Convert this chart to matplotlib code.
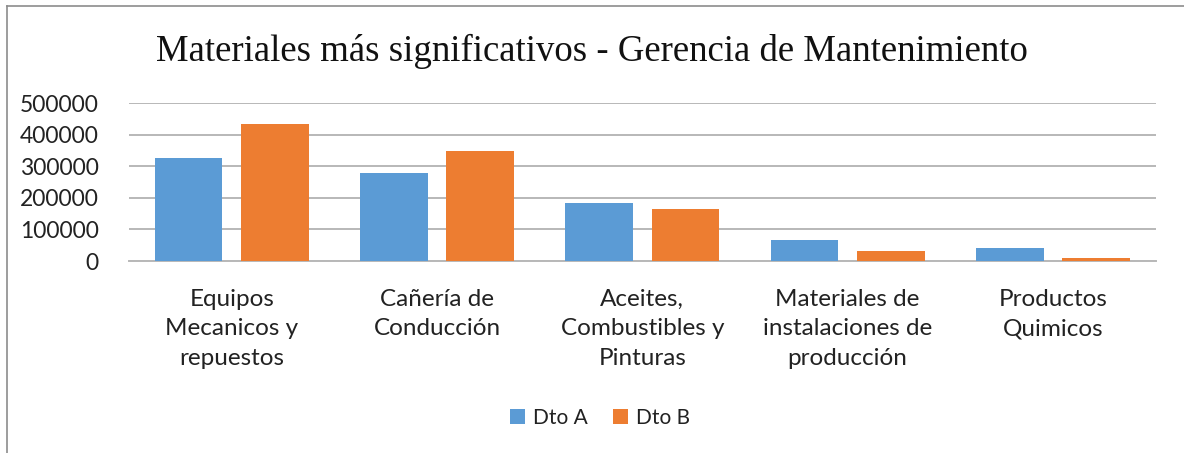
import numpy as np
import matplotlib.pyplot as plt
from matplotlib.lines import Line2D

# data
categorias = ["Equipos\nMecanicos y\nrepuestos", "Cañería de\nConducción",
              "Aceites,\nCombustibles y\nPinturas", "Materiales de\ninstalaciones de\nproducción",
              "Productos\nQuimicos"]
dto_a = [326000, 278000, 183000, 66000, 41000]
dto_b = [433000, 348000, 165000, 33000, 10000]
yticks = [0, 100000, 200000, 300000, 400000, 500000]

azul = "#5B9BD5"
naranja = "#ED7D31"
sans = ["Lato", "DejaVu Sans"]

fig = plt.figure(figsize=(11.84, 4.53), dpi=100)
ax = fig.add_axes([0.109, 0.4238, 0.867, 0.3488])

x = np.arange(len(categorias))
w = 0.33
ax.bar(x - 0.21, dto_a, w, color=azul, label="Dto A", zorder=3)
ax.bar(x + 0.21, dto_b, w, color=naranja, label="Dto B", zorder=3)

ax.set_xlim(-0.5, len(categorias) - 0.5)
ax.set_ylim(0, 500000)
ax.set_yticks(yticks)
ax.set_yticklabels([str(v) for v in yticks], fontsize=16.5, family=sans, color="#222222")
ax.set_xticks(x)
ax.set_xticklabels(categorias, fontsize=17.5, family=sans, color="#222222", linespacing=1.5, va="top")
ax.tick_params(length=0, axis="both")
ax.tick_params(axis="y", pad=22)
ax.tick_params(axis="x", pad=20)
ax.grid(axis="y", color="#b8b8b8", lw=1.4, zorder=0)
for s in ["top", "right", "left"]:
    ax.spines[s].set_visible(False)
ax.spines["bottom"].set_color("#b8b8b8")
ax.spines["bottom"].set_linewidth(1.4)

fig.text(0.5, 0.886, "Materiales más significativos - Gerencia de Mantenimiento",
         ha="center", va="center", fontsize=26.5, family="Liberation Serif", color="#111111")

leg = fig.legend(loc="center", bbox_to_anchor=(0.507, 0.078), ncol=2, frameon=False,
                 prop={"family": sans, "size": 15}, handlelength=0.7, handleheight=0.7,
                 columnspacing=1.2, handletextpad=0.4)
for t in leg.get_texts():
    t.set_color("#222222")

# chart border (top and left edges visible in the reference)
fig.add_artist(Line2D([0.006, 1.0], [0.987, 0.987], transform=fig.transFigure, color="#8c8c8c", lw=1.2))
fig.add_artist(Line2D([0.006, 0.006], [0.0, 0.987], transform=fig.transFigure, color="#8c8c8c", lw=1.2))

fig.savefig("out.png", dpi=100)
